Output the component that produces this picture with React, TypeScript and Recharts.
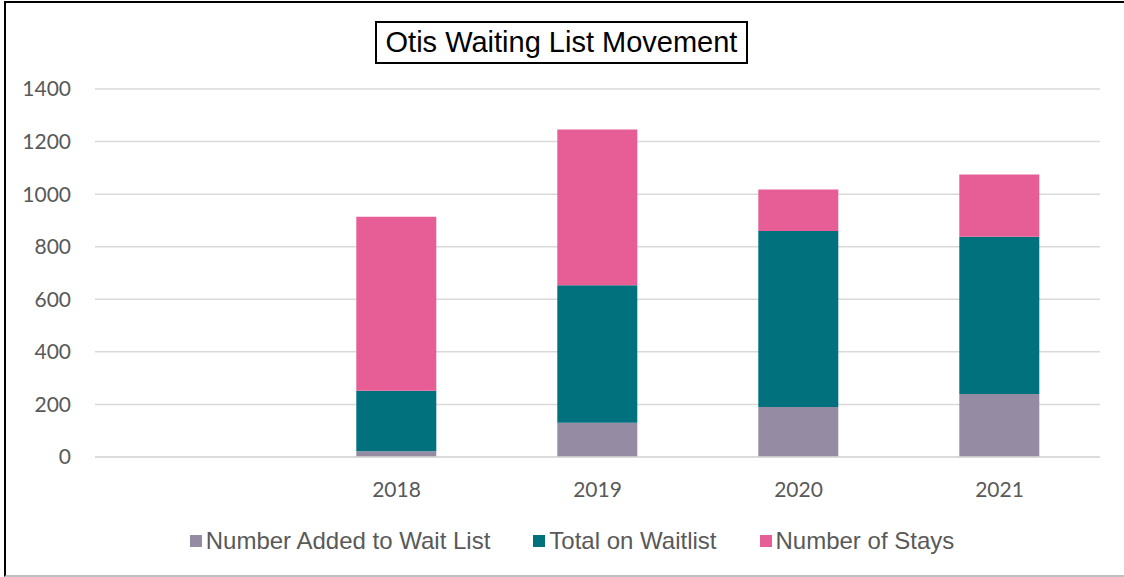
import React from "react";
import { BarChart, Bar, XAxis, YAxis, CartesianGrid } from "recharts";

const categories = ["", "2018", "2019", "2020", "2021"];
const addedToWaitList = [null, 22, 130, 190, 240];
const totalOnWaitlist = [null, 230, 523, 670, 598];
const numberOfStays = [null, 662, 593, 158, 237];
const yTicks = [0, 200, 400, 600, 800, 1000, 1200, 1400];

const seriesNames = ["Number Added to Wait List", "Total on Waitlist", "Number of Stays"];
const seriesColors = ["#958ca4", "#01717e", "#e65e95"];

const data = categories.map((c, i) => ({
  year: c,
  added: addedToWaitList[i],
  total: totalOnWaitlist[i],
  stays: numberOfStays[i],
}));

export default function App() {
  return (
    <div style={{ position: "absolute", left: 0, top: 0, width: 1124, height: 577, overflow: "hidden", background: "#fff" }}>
      <div
        style={{
          position: "absolute",
          left: 4,
          top: 1,
          width: 1140,
          height: 572,
          borderLeft: "2px solid #000",
          borderTop: "2px solid #000",
          borderBottom: "2px solid #bfbfbf",
        }}
      />
      <BarChart
        width={1124}
        height={577}
        data={data}
        margin={{ top: 89, right: 24, left: 0, bottom: 80 }}
        barCategoryGap="30%"
        style={{ position: "absolute", left: 0, top: 0 }}
      >
        <CartesianGrid vertical={false} stroke="#d9d9d9" strokeWidth={1.5} />
        <XAxis
          dataKey="year"
          height={40}
          axisLine={{ stroke: "#d9d9d9", strokeWidth: 1.5 }}
          tickLine={false}
          tick={{ fill: "#595959", fontSize: 21, fontFamily: "Lato, sans-serif", dy: 17 }}
        />
        <YAxis
          width={95}
          domain={[0, 1400]}
          ticks={yTicks}
          axisLine={false}
          tickLine={false}
          tick={{ fill: "#595959", fontSize: 21, fontFamily: "Lato, sans-serif", dx: -16 }}
        />
        <Bar dataKey="added" stackId="a" name={seriesNames[0]} fill={seriesColors[0]} isAnimationActive={false} />
        <Bar dataKey="total" stackId="a" name={seriesNames[1]} fill={seriesColors[1]} isAnimationActive={false} />
        <Bar dataKey="stays" stackId="a" name={seriesNames[2]} fill={seriesColors[2]} isAnimationActive={false} />
      </BarChart>
      <div
        style={{
          position: "absolute",
          left: 0,
          top: 527,
          width: 1124,
          display: "flex",
          justifyContent: "center",
          alignItems: "center",
          fontFamily: "'Liberation Sans', Arial, sans-serif",
          fontSize: 24,
          color: "#595959",
          paddingLeft: 20,
          boxSizing: "border-box",
        }}
      >
        {seriesNames.map((n, i) => (
          <div key={n} style={{ display: "flex", alignItems: "center", marginRight: i < 2 ? 43 : 0 }}>
            <span style={{ width: 12, height: 12, background: seriesColors[i], display: "inline-block", marginRight: 4 }} />
            <span>{n}</span>
          </div>
        ))}
      </div>
      <div
        style={{
          position: "absolute",
          left: 375,
          top: 21,
          width: 369,
          height: 39,
          border: "2px solid #000",
          fontFamily: "'Liberation Sans', Arial, sans-serif",
          fontSize: 29,
          color: "#000",
          display: "flex",
          alignItems: "center",
          justifyContent: "center",
          whiteSpace: "nowrap",
        }}
      >
        Otis Waiting List Movement
      </div>
    </div>
  );
}
